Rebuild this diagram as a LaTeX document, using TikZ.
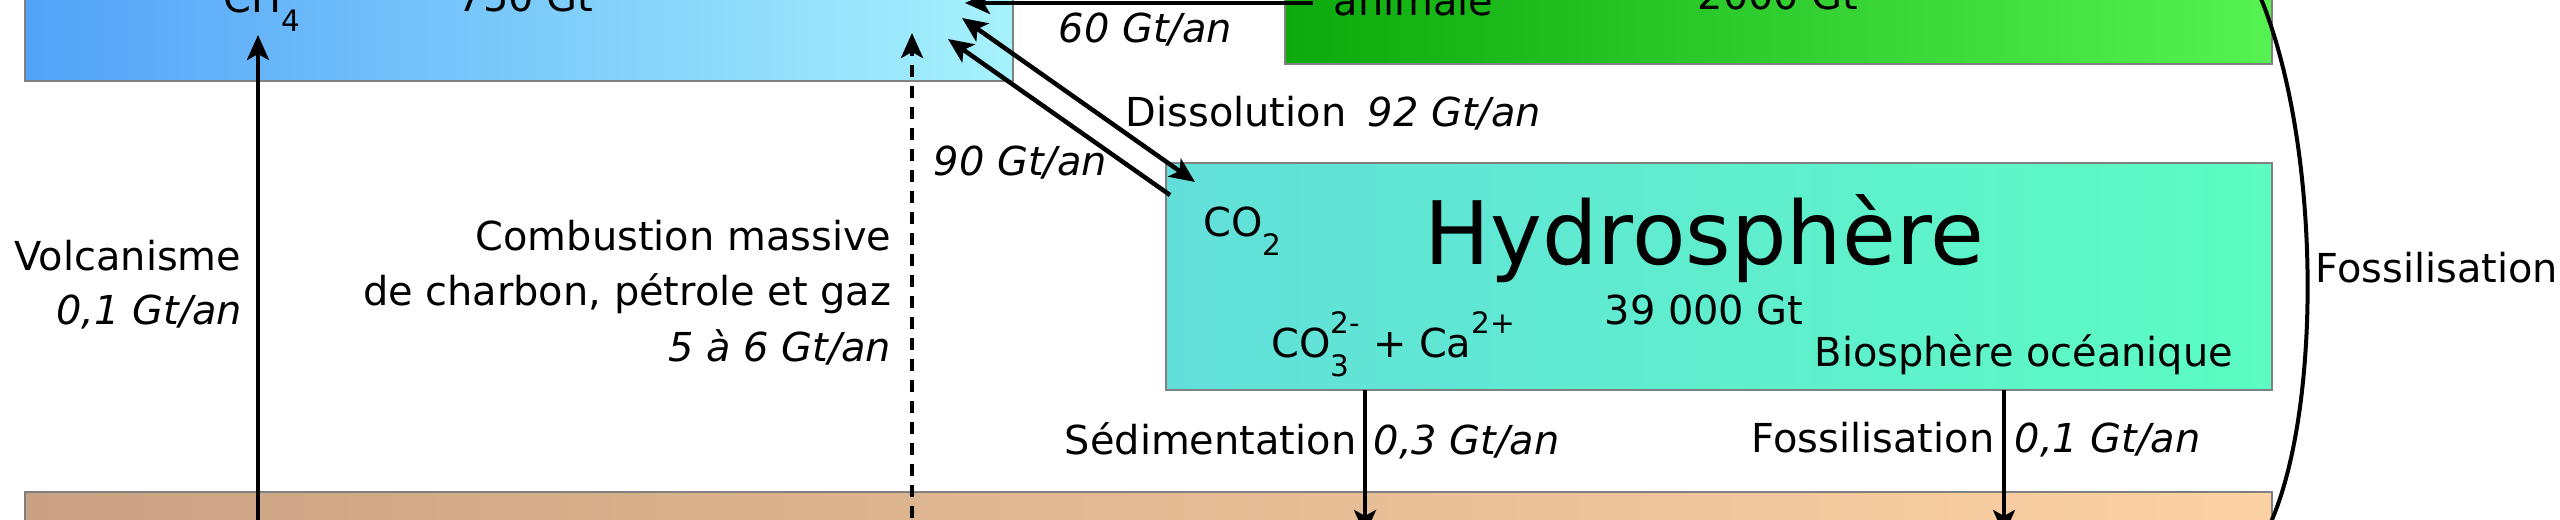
\documentclass[tikz,border=0pt]{standalone}
\usepackage{fontspec}
\setmainfont{DejaVu Sans}
\usetikzlibrary{arrows.meta}

\definecolor{atmoL}{HTML}{52A2F8}
\definecolor{atmoR}{HTML}{A6F2FC}
\definecolor{bioL}{HTML}{0CAA0C}
\definecolor{bioR}{HTML}{56F252}
\definecolor{hydroL}{HTML}{62DFDA}
\definecolor{hydroR}{HTML}{5CFCC2}
\definecolor{lithoL}{HTML}{C8A282}
\definecolor{lithoR}{HTML}{FCD2A4}

\newcommand{\sbs}[1]{\raisebox{-0.46em}{\fontsize{8.4}{8}\selectfont #1}}
\newcommand{\sps}[1]{\raisebox{0.62em}{\fontsize{8.4}{8}\selectfont #1}}

\tikzset{
  reservoir/.style={draw=black!50, line width=0.2mm, inner sep=0pt, outer sep=0pt},
  flux/.style={line width=0.45mm, -{Stealth[length=2.5mm,width=2.2mm,inset=0.6mm]}},
  lbl/.style={inner sep=0pt, font=\fontsize{11.35}{15.6}\selectfont},
  rate/.style={inner sep=0pt, font=\fontsize{11.35}{15.6}\selectfont\itshape},
}

\begin{document}
\begin{tikzpicture}[x=0.1mm,y=-0.1mm]
\useasboundingbox (0,0) rectangle (2560,520);
\clip (0,0) rectangle (2560,520);

% Reservoirs
\node[reservoir, left color=atmoL, right color=atmoR, minimum width=98.8mm,
      minimum height=23mm, anchor=south west] (atmo) at (25,81) {};
\node[reservoir, left color=bioL, right color=bioR, minimum width=98.7mm,
      minimum height=20mm, anchor=south west] (bio) at (1285,64) {};
\node[reservoir, left color=hydroL, right color=hydroR, minimum width=110.6mm,
      minimum height=22.7mm, anchor=north west] (hydro) at (1166,163) {};
\node[reservoir, left color=lithoL, right color=lithoR, minimum width=224.7mm,
      minimum height=10mm, anchor=north west] (litho) at (25,492) {};

% Atmosphere and biosphere texts
\node[lbl, anchor=base west] (ch4) at (223,13) {CH\sbs{4}};
\node[lbl, anchor=base west] (atmoGt) at (457,12) {750 Gt};
\node[lbl, anchor=base west] (animale) at (1333,16) {animale};
\node[lbl, anchor=base west] (bioGt) at (1697,10) {2000 Gt};

% Hydrosphere texts
\node[lbl, anchor=base west] (co2) at (1203,237) {CO\sbs{2}};
\node[inner sep=0pt, font=\fontsize{24.9}{30}\selectfont, anchor=base west] (hydroT) at (1424,265) {Hydrosphère};
\node[lbl, anchor=base west] (hydroGt) at (1604,325) {39 000 Gt};
\node[lbl, anchor=base west] (ions) at (1271,358)
  {CO\makebox[0pt][l]{\sbs{3}}\sps{2-} + Ca\sps{2+}};
\node[lbl, anchor=base west] (bioOc) at (1814,367) {Biosphère océanique};

% Flux labels
\node[rate, anchor=base west] (resp) at (1058,43) {60 Gt/an};
\node[lbl, anchor=base west] (diss) at (1125,127) {Dissolution};
\node[rate, anchor=base west] (dissR) at (1367,127) {92 Gt/an};
\node[rate, anchor=base west] (deg) at (933,176) {90 Gt/an};
\node[lbl, anchor=base east] (volc) at (242,271) {Volcanisme};
\node[rate, anchor=base east] (volcR) at (243,325) {0,1 Gt/an};
\node[lbl, anchor=base east] (comb1) at (892,251) {Combustion massive};
\node[lbl, anchor=base east] (comb2) at (892,306) {de charbon, pétrole et gaz};
\node[rate, anchor=base east] (combR) at (892,362) {5 à 6 Gt/an};
\node[lbl, anchor=base east] (sed) at (1357,455) {Sédimentation};
\node[rate, anchor=base west] (sedR) at (1373,455) {0,3 Gt/an};
\node[lbl, anchor=base east] (fos) at (1995,453) {Fossilisation};
\node[rate, anchor=base west] (fosR) at (2014,453) {0,1 Gt/an};
\node[lbl, anchor=base west] (fosC) at (2315,283) {Fossilisation};

% Flux end points
\coordinate (volcA) at (258,560);
\coordinate (volcB) at (258,35);
\coordinate (combA) at (912,560);
\coordinate (combB) at (912,33);
\coordinate (respA) at (1313,3);
\coordinate (respB) at (965,3);
\coordinate (dissA) at (962,18);
\coordinate (dissB) at (1195,182);
\coordinate (degA) at (1170,195);
\coordinate (degB) at (948,39);
\coordinate (sedA) at (1365,390);
\coordinate (sedB) at (1365,535);
\coordinate (fosA) at (2004,390);
\coordinate (fosB) at (2004,535);
\coordinate (curA) at (2248,-30);
\coordinate (curB) at (2262,540);

% Fluxes
\draw[flux] (volcA) -- (volcB);
\draw[flux, dash pattern=on 1.2mm off 0.9mm] (combA) -- (combB);
\draw[flux] (respA) -- (respB);
\draw[flux, {Stealth[length=2.5mm,width=2.2mm,inset=0.6mm]}-{Stealth[length=2.5mm,width=2.2mm,inset=0.6mm]}] (dissA) -- (dissB);
\draw[flux] (degA) -- (degB);
\draw[flux] (sedA) -- (sedB);
\draw[flux] (fosA) -- (fosB);
\draw[line width=0.4mm] (curA) .. controls (2325,120) and (2325,430) .. (curB);
\end{tikzpicture}
\end{document}
